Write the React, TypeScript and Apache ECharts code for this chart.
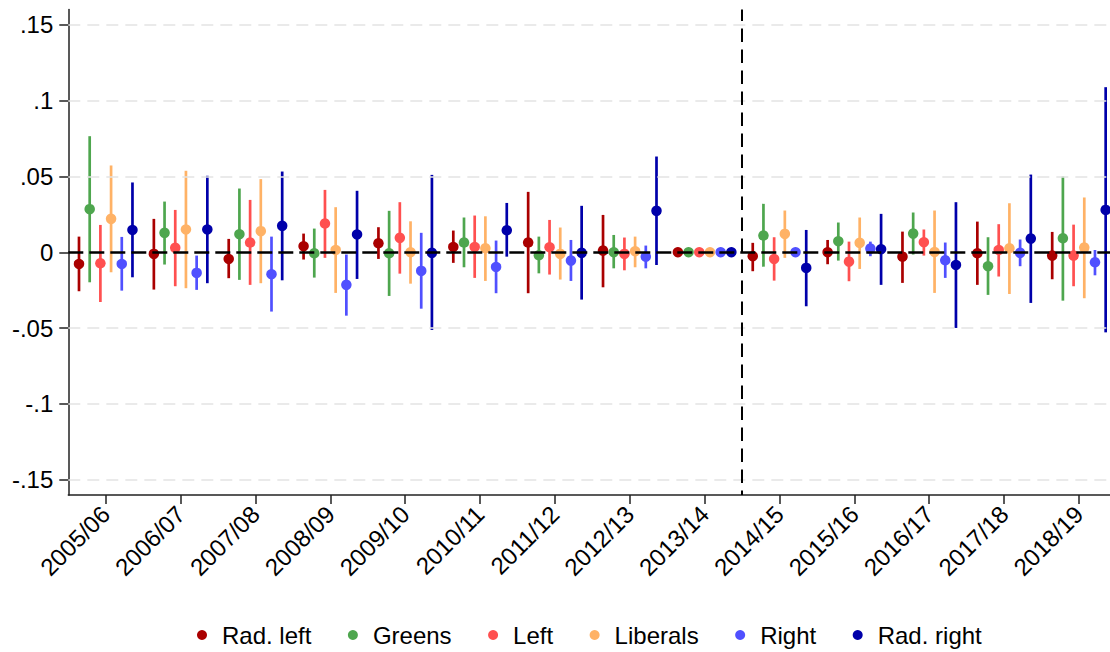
import React, { useEffect, useRef } from "react";
import * as echarts from "echarts";

const categories = [
  "2005/06", "2006/07", "2007/08", "2008/09", "2009/10", "2010/11", "2011/12",
  "2012/13", "2013/14", "2014/15", "2015/16", "2016/17", "2017/18", "2018/19",
];

const seriesNames = ["Rad. left", "Greens", "Left", "Liberals", "Right", "Rad. right"];
const seriesColors = ["#aa0000", "#4ea64e", "#ff5050", "#ffb266", "#5050ff", "#0000aa"];

const yTicks = [-0.15, -0.1, -0.05, 0, 0.05, 0.1, 0.15];
const gridTicks = [-0.15, -0.1, -0.05, 0.05, 0.1, 0.15];
const breakPosition = 8.5;

// point estimates, lower and upper CI bounds
const radLeftEst = [-0.0077, -0.0011, -0.0044, 0.004, 0.0059, 0.0035, 0.0064, 0.0011, 0, -0.0026, 0, -0.0029, -0.0007, -0.0022];
const radLeftLo = [-0.0257, -0.0246, -0.0171, -0.0048, -0.0044, -0.007, -0.027, -0.0231, 0, -0.0125, -0.0079, -0.0202, -0.0215, -0.0178];
const radLeftHi = [0.0103, 0.022, 0.0088, 0.0123, 0.0165, 0.0143, 0.0398, 0.0246, 0, 0.0062, 0.0081, 0.0136, 0.0202, 0.0134];

const greensEst = [0.0284, 0.0128, 0.0119, -0.0007, -0.0007, 0.0064, -0.002, 0.0, 0, 0.011, 0.0073, 0.0123, -0.0092, 0.0092];
const greensLo = [-0.0198, -0.0081, -0.0182, -0.0167, -0.0288, -0.0099, -0.0139, -0.0106, 0, -0.0095, -0.0055, -0.0015, -0.0281, -0.0319];
const greensHi = [0.0765, 0.0334, 0.042, 0.0156, 0.0273, 0.0229, 0.0103, 0.0114, 0, 0.0319, 0.0196, 0.0262, 0.0099, 0.0499];

const leftEst = [-0.0073, 0.0029, 0.0064, 0.0189, 0.0095, 0.0035, 0.0033, -0.0011, 0, -0.0044, -0.0062, 0.0066, 0.0015, -0.0022];
const leftLo = [-0.0328, -0.0224, -0.0215, -0.0037, -0.0141, -0.0169, -0.0147, -0.0119, 0, -0.0187, -0.0191, -0.0022, -0.016, -0.0224];
const leftHi = [0.018, 0.0279, 0.0345, 0.0411, 0.033, 0.0242, 0.0213, 0.0097, 0, 0.0099, 0.007, 0.015, 0.0185, 0.0182];

const liberalsEst = [0.022, 0.015, 0.0139, 0.0015, 0.0, 0.0026, -0.0011, 0.0007, 0, 0.0121, 0.0062, 0.0002, 0.0026, 0.0031];
const liberalsLo = [-0.0132, -0.0237, -0.0204, -0.0268, -0.0207, -0.0189, -0.018, -0.0099, 0, -0.0037, -0.011, -0.0268, -0.0275, -0.0303];
const liberalsHi = [0.0572, 0.0537, 0.0482, 0.0297, 0.0204, 0.0237, 0.0163, 0.0103, 0, 0.0275, 0.0229, 0.0275, 0.0323, 0.0361];

const rightEst = [-0.0077, -0.0136, -0.0145, -0.0215, -0.0123, -0.0097, -0.0055, -0.0029, 0, 0, 0.0024, -0.0053, -0.0004, -0.0066];
const rightLo = [-0.0253, -0.0248, -0.0391, -0.0418, -0.0372, -0.027, -0.0189, -0.0106, 0, 0, -0.0026, -0.0169, -0.0092, -0.0152];
const rightHi = [0.0101, -0.0022, 0.0103, -0.0015, 0.0128, 0.0077, 0.0081, 0.0044, 0, 0, 0.007, 0.0064, 0.0084, 0.0015];

const radRightEst = [0.0147, 0.015, 0.0174, 0.0117, -0.0004, 0.0145, -0.0004, 0.0273, 0, -0.0103, 0.002, -0.0084, 0.009, 0.0279];
const radRightLo = [-0.0165, -0.0204, -0.0185, -0.0176, -0.0512, -0.0029, -0.0312, -0.0084, 0, -0.0356, -0.0215, -0.0499, -0.0334, -0.0528];
const radRightHi = [0.046, 0.0504, 0.0532, 0.0405, 0.051, 0.0325, 0.0306, 0.0631, 0, 0.0147, 0.0253, 0.033, 0.0512, 0.1088];

const FONT = "Liberation Sans, Arial, Helvetica, sans-serif";

function fmtY(v: number): string {
  if (Math.abs(v) < 1e-9) return "0";
  const s = String(Math.round(v * 100) / 100);
  return s.replace("0.", ".");
}

export default function App() {
  const ref = useRef<HTMLDivElement>(null);

  useEffect(() => {
    if (!ref.current) return;
    const chart = echarts.init(ref.current, null, { renderer: "svg" });

    const groups = [
      { est: radLeftEst, lo: radLeftLo, hi: radLeftHi },
      { est: greensEst, lo: greensLo, hi: greensHi },
      { est: leftEst, lo: leftLo, hi: leftHi },
      { est: liberalsEst, lo: liberalsLo, hi: liberalsHi },
      { est: rightEst, lo: rightLo, hi: rightHi },
      { est: radRightEst, lo: radRightLo, hi: radRightHi },
    ];

    const series: any[] = [];

    // reference lines
    series.push({
      type: "scatter",
      name: "ref",
      data: [],
      z: 1,
      silent: true,
      markLine: {
        silent: true,
        symbol: "none",
        animation: false,
        label: { show: false },
        data: [
          ...gridTicks.map((v) => ({
            yAxis: v,
            lineStyle: { color: "#e4e4e4", width: 1.5, type: [12, 7] },
          })),
          {
            yAxis: 0,
            lineStyle: { color: "#000", width: 2.5, type: [15, 6] },
          },
          {
            xAxis: breakPosition,
            lineStyle: { color: "#000", width: 2, type: [13.5, 7.5], dashOffset: 9 },
          },
        ],
      },
    });

    groups.forEach((g, k) => {
      const off = (k - 2.5) / 7;
      const color = seriesColors[k];
      series.push({
        type: "custom",
        name: seriesNames[k] + " CI",
        data: categories.map((_, i) => [i + off, g.lo[i], g.hi[i]]),
        encode: { x: 0, y: [1, 2] },
        z: 2,
        silent: true,
        renderItem: (params: any, api: any) => {
          const x = api.value(0);
          const p1 = api.coord([x, api.value(1)]);
          const p2 = api.coord([x, api.value(2)]);
          return {
            type: "line",
            shape: { x1: p1[0], y1: p1[1], x2: p2[0], y2: p2[1] },
            style: { stroke: color, lineWidth: 2.7 },
          };
        },
      });
    });

    groups.forEach((g, k) => {
      const off = (k - 2.5) / 7;
      series.push({
        type: "scatter",
        name: seriesNames[k],
        data: categories.map((_, i) => [i + off, g.est[i]]),
        symbol: "circle",
        symbolSize: 10.5,
        itemStyle: { color: seriesColors[k], opacity: 1 },
        z: 3,
      });
    });

    const xTickValues = categories.map((_, i) => i);

    chart.setOption({
      animation: false,
      backgroundColor: "#fff",
      grid: { left: 68.3, right: 0, top: 9.5, bottom: 157, containLabel: false },
      legend: {
        data: seriesNames,
        icon: "circle",
        itemWidth: 10,
        itemHeight: 10,
        itemGap: 36.5,
        left: 192,
        top: 618,
        textStyle: { fontFamily: FONT, fontSize: 24, color: "#000", padding: [0, 0, 0, 10] },
      },
      xAxis: {
        type: "value",
        min: -0.5,
        max: 13.415,
        axisLine: { show: true, onZero: false, lineStyle: { color: "#222", width: 1.5 } },
        axisTick: {
          show: true,
          customValues: xTickValues,
          length: 9,
          lineStyle: { color: "#222", width: 1.5 },
        },
        axisLabel: {
          customValues: xTickValues,
          formatter: (v: number) => categories[Math.round(v)] ?? "",
          rotate: 45,
          margin: 15,
          fontFamily: FONT,
          fontSize: 24,
          color: "#000",
        },
        splitLine: { show: false },
      },
      yAxis: {
        type: "value",
        min: -0.16,
        max: 0.16,
        axisLine: { show: true, onZero: false, lineStyle: { color: "#222", width: 1.5 } },
        axisTick: {
          show: true,
          customValues: yTicks,
          length: 9,
          lineStyle: { color: "#222", width: 1.5 },
        },
        axisLabel: {
          customValues: yTicks,
          formatter: (v: number) => fmtY(v),
          margin: 15,
          fontFamily: FONT,
          fontSize: 24,
          color: "#000",
        },
        splitLine: { show: false },
      },
      series,
    });

    return () => chart.dispose();
  }, []);

  return (
    <div
      ref={ref}
      style={{ position: "fixed", left: 0, top: 0, width: 1110, height: 652, background: "#fff" }}
    />
  );
}
